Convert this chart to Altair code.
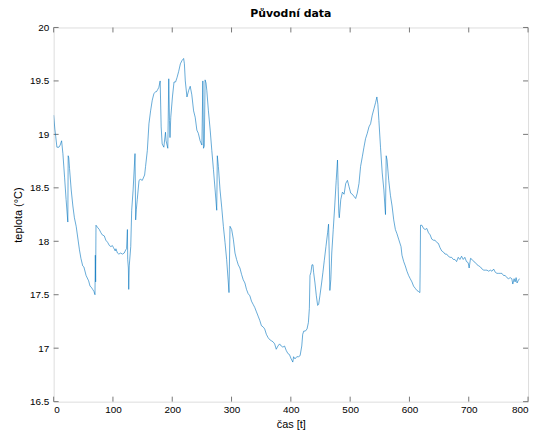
import altair as alt
import pandas as pd

t = [0, 2, 3.5, 5.5, 9, 11, 13.4, 15.6, 18.4, 21, 23.9, 24.5, 25.5, 26.8, 29.6, 32.4, 35, 38, 43.5, 46,
     49, 51, 54.7, 59, 61.4, 63.5, 65.8, 68, 69.7, 70.3, 70.8, 71.4, 74, 77, 79.7, 82, 85.4, 88, 91, 94,
     96.6, 99, 101, 103.8, 105, 107.6, 110, 113, 116, 119, 121.6, 123, 124.4, 124.9, 126, 126.6, 127.5, 130, 131.6, 134,
     137.2, 138.3, 139.5, 141, 144, 146, 149.5, 153.4, 155, 158, 160.7, 163.5, 166.3, 169, 172, 173.5, 175.5, 177.4, 179.6, 181.3,
     183, 185.8, 188.6, 189.6, 192.5, 194.1, 195.3, 196.2, 197.5, 200.3, 203, 205.6, 208, 210.9, 213.7, 216.4, 219.2, 220.5, 222, 224.8,
     227.6, 230.3, 233, 236, 238.7, 241.5, 244, 247, 250, 251.6, 252.7, 254, 255.4, 257, 258.3, 261, 264, 266.7, 269.5, 272.3,
     275, 276, 277.8, 280.6, 283.4, 286.2, 289, 291.7, 294.6, 295.7, 297.4, 300.2, 303, 305.8, 308.5, 311.3, 314.1, 316.9, 319.7, 322.5,
     325.2, 328, 330.9, 333.6, 336.4, 339.2, 342, 344.8, 347.6, 350.4, 353.1, 355.9, 358.7, 361.5, 364.3, 367, 369.9, 372.7, 375.4, 378.2,
     381, 383.8, 386.6, 389.4, 392.1, 395, 397.7, 400.5, 403.3, 404.6, 407, 410, 413, 415.6, 418.4, 420, 421.8, 424.5, 427.3, 429.6,
     431.2, 432.3, 433.9, 435.6, 437.3, 438.4, 440.7, 443, 445.2, 446.9, 449, 451.9, 454.1, 456.4, 459.2, 462, 463.6, 464.7, 465.8, 467.4,
     469, 471.5, 474, 476.5, 478.7, 479.8, 480.9, 481.7, 484.2, 487, 489.8, 492.5, 495.4, 498.2, 501, 503.7, 506.5, 509.3, 512, 514.9,
     517.6, 520.5, 523.3, 526, 528.9, 531.7, 534.5, 537.3, 540.2, 543, 545.1, 546.8, 548.5, 551.2, 554.1, 556.9, 558.6, 559.6, 560.8, 562.3,
     565.1, 567.9, 570.7, 573.5, 576.3, 579, 581.8, 585.8, 587.4, 590.3, 593, 595.8, 598.6, 601.3, 604.2, 607, 609.8, 612.6, 615.4, 617.6,
     618.1, 618.7, 621, 623.8, 626.5, 629.3, 632.1, 634.9, 637.7, 640.5, 643.2, 646, 648.8, 651.6, 654.4, 657.2, 660, 662.8, 665.6, 668.4,
     671.1, 674, 676.7, 679.5, 682.3, 685.1, 687.9, 690.7, 693.4, 696.2, 699, 700.7, 703, 705.7, 708.5, 711.3, 714.1, 716.9, 719.7, 722.5,
     725.3, 728.1, 730.8, 733.6, 736.4, 739.2, 742, 744.8, 747.6, 750.4, 753.1, 755.9, 758.7, 761.5, 764.3, 767.1, 769.9, 772.6, 774.3, 776.5,
     778.2, 779.9, 781.5, 783.2, 785.5]

teplota = [19.18, 19.05, 18.98, 18.88, 18.88, 18.90, 18.94, 18.82, 18.60, 18.39, 18.18, 18.80, 18.78, 18.68, 18.48, 18.33, 18.22, 18.14, 17.92, 17.84,
           17.77, 17.76, 17.68, 17.63, 17.58, 17.57, 17.55, 17.53, 17.50, 17.87, 17.62, 18.15, 18.13, 18.11, 18.08, 18.06, 18.05, 18.01, 17.99, 17.96,
           17.95, 17.96, 17.94, 17.91, 17.93, 17.89, 17.88, 17.89, 17.88, 17.89, 17.92, 17.93, 18.11, 17.83, 17.75, 17.55, 17.77, 17.95, 18.29, 18.48,
           18.82, 18.20, 18.30, 18.39, 18.57, 18.58, 18.57, 18.62, 18.70, 18.85, 19.10, 19.22, 19.32, 19.38, 19.40, 19.40, 19.42, 19.44, 19.50, 19.07,
           18.91, 18.88, 19.02, 18.94, 18.87, 19.52, 19.13, 18.97, 19.16, 19.35, 19.49, 19.49, 19.53, 19.59, 19.66, 19.69, 19.71, 19.66, 19.50, 19.35,
           19.41, 19.45, 19.37, 19.22, 19.16, 19.04, 19.01, 18.94, 18.90, 19.50, 18.87, 18.89, 19.51, 19.48, 19.41, 19.22, 19.04, 18.85, 18.67, 18.48,
           18.29, 18.80, 18.70, 18.48, 18.32, 18.14, 17.99, 17.83, 17.61, 17.52, 18.14, 18.11, 18.02, 17.89, 17.83, 17.78, 17.75, 17.69, 17.64, 17.61,
           17.55, 17.51, 17.49, 17.44, 17.41, 17.38, 17.34, 17.30, 17.26, 17.21, 17.20, 17.18, 17.13, 17.10, 17.08, 17.07, 17.06, 17.04, 16.99, 17.02,
           17.04, 17.02, 17.01, 17.02, 16.98, 16.95, 16.94, 16.90, 16.87, 16.92, 16.90, 16.92, 16.92, 16.93, 17.02, 17.13, 17.16, 17.16, 17.18, 17.24,
           17.37, 17.68, 17.71, 17.78, 17.78, 17.71, 17.61, 17.49, 17.40, 17.41, 17.49, 17.61, 17.71, 17.82, 17.95, 18.08, 18.16, 17.89, 17.54, 17.64,
           17.89, 18.11, 18.33, 18.57, 18.76, 18.51, 18.26, 18.22, 18.39, 18.46, 18.44, 18.54, 18.57, 18.51, 18.45, 18.44, 18.42, 18.40, 18.45, 18.54,
           18.70, 18.79, 18.88, 18.96, 19.01, 19.07, 19.10, 19.18, 19.24, 19.30, 19.35, 19.28, 19.13, 18.88, 18.64, 18.48, 18.33, 18.25, 18.80, 18.76,
           18.57, 18.43, 18.33, 18.20, 18.11, 18.07, 18.02, 17.95, 17.87, 17.81, 17.77, 17.72, 17.68, 17.65, 17.62, 17.58, 17.56, 17.54, 17.53, 17.52,
           17.75, 18.15, 18.15, 18.12, 18.11, 18.12, 18.08, 18.06, 18.02, 18.01, 18.01, 17.99, 17.98, 17.94, 17.91, 17.90, 17.88, 17.88, 17.86, 17.85,
           17.85, 17.83, 17.83, 17.81, 17.85, 17.83, 17.86, 17.83, 17.85, 17.81, 17.80, 17.75, 17.84, 17.83, 17.81, 17.80, 17.78, 17.77, 17.76, 17.74,
           17.73, 17.73, 17.73, 17.72, 17.73, 17.72, 17.74, 17.71, 17.70, 17.70, 17.70, 17.70, 17.68, 17.68, 17.66, 17.65, 17.66, 17.65, 17.60, 17.65,
           17.62, 17.66, 17.61, 17.63, 17.65]

x_ticks = [0, 100, 200, 300, 400, 500, 600, 700, 800]
y_ticks = [16.5, 17, 17.5, 18, 18.5, 19, 19.5, 20]

W, H = 478, 377
TICK = 5
AXIS_GRAY = "#777777"
TEXT = "#262626"
FONT = "DejaVu Sans"

df = pd.DataFrame({"t": t, "teplota": teplota, "i": range(len(t))})
xt = pd.DataFrame({"xv": x_ticks})
yt = pd.DataFrame({"yv": y_ticks})

xscale = alt.Scale(domain=[0, 800], nice=False, zero=False)
yscale = alt.Scale(domain=[16.5, 20], nice=False, zero=False)

line = alt.Chart(df).mark_line(color="#0072BD", strokeWidth=0.6, clip=True).encode(
    x=alt.X("t:Q", scale=xscale,
            axis=alt.Axis(values=x_ticks, title="čas [t]", format="d", domain=False, ticks=False,
                          grid=False, labelPadding=3, titlePadding=4, titleFontWeight="normal")),
    y=alt.Y("teplota:Q", scale=yscale,
            axis=alt.Axis(values=y_ticks, title="teplota (°C)", format="~g", domain=False, ticks=False,
                          grid=False, labelPadding=5, titlePadding=6, titleFontWeight="normal")),
    order="i:Q",
)

xb = alt.Chart(xt).mark_rule(color=AXIS_GRAY, strokeWidth=1).encode(
    x=alt.X("xv:Q", scale=xscale), y=alt.value(H), y2=alt.value(H - TICK))
xtop = alt.Chart(xt).mark_rule(color=AXIS_GRAY, strokeWidth=1).encode(
    x=alt.X("xv:Q", scale=xscale), y=alt.value(0), y2=alt.value(TICK))
yl = alt.Chart(yt).mark_rule(color=AXIS_GRAY, strokeWidth=1).encode(
    y=alt.Y("yv:Q", scale=yscale), x=alt.value(0), x2=alt.value(TICK))
yr = alt.Chart(yt).mark_rule(color=AXIS_GRAY, strokeWidth=1).encode(
    y=alt.Y("yv:Q", scale=yscale), x=alt.value(W - TICK), x2=alt.value(W))

chart = alt.layer(xb, xtop, yl, yr, line).properties(
    width=W, height=H,
    title=alt.TitleParams("Původní data", font=FONT, fontSize=11, fontWeight="bold",
                          color="#000000", anchor="middle", offset=4),
    autosize=alt.AutoSizeParams(type="none"),
    padding={"left": 46, "top": 18, "right": 5, "bottom": 33},
).configure_view(
    stroke=AXIS_GRAY, strokeWidth=1
).configure_axis(
    labelFont=FONT, labelFontSize=10, labelColor=TEXT,
    titleFont=FONT, titleFontSize=11, titleColor=TEXT, titleFontWeight="normal",
).configure(background="white")

chart.save("out.html", embed_options={"renderer": "svg", "actions": False})
